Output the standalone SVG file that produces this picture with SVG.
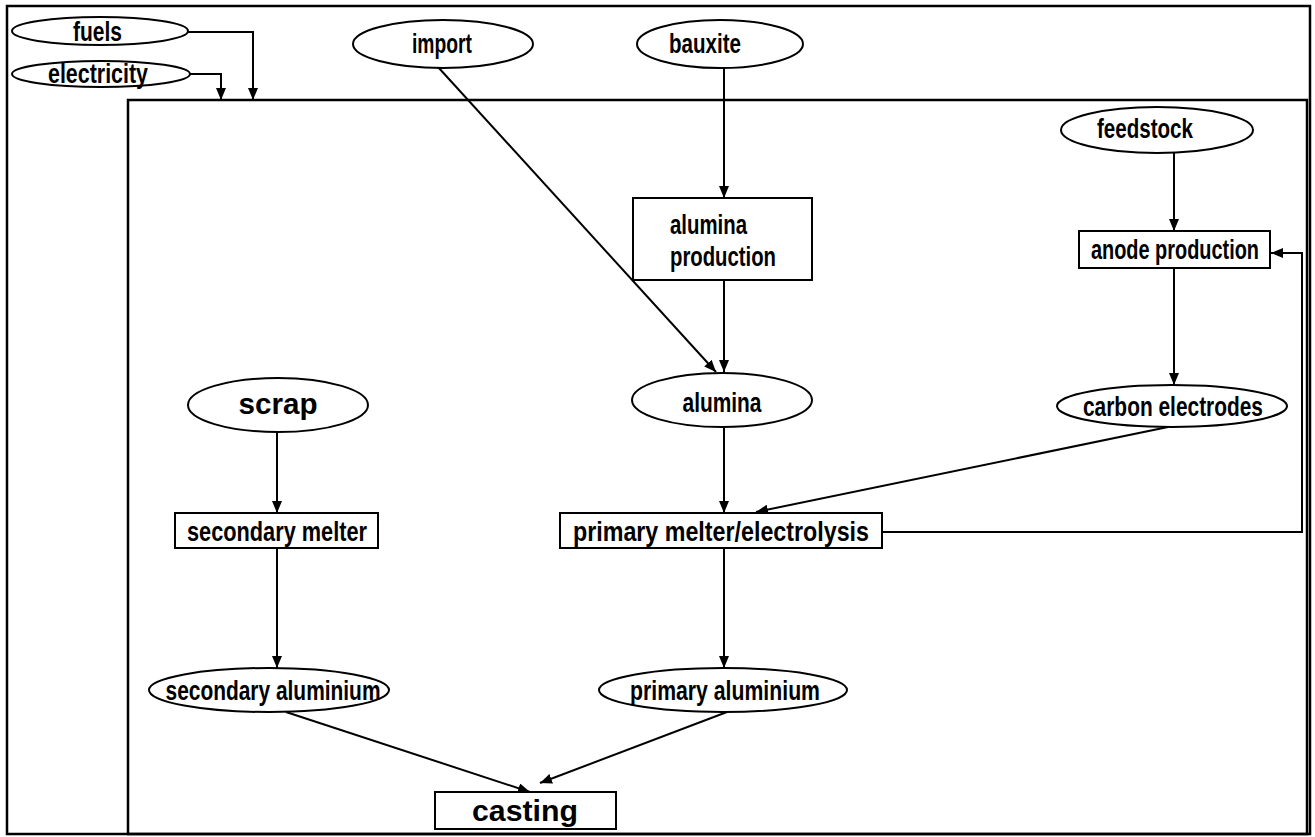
<svg xmlns="http://www.w3.org/2000/svg" width="1315" height="837" viewBox="0 0 1315 837">
<defs>
<style>
.frame{fill:none;stroke:#000;stroke-width:2.5}
.node{fill:#fff;stroke:#000;stroke-width:2}
.lbl{font-family:'Liberation Sans Narrow','Liberation Sans',Arial,sans-serif;font-weight:bold;font-size:27px;fill:#000;text-anchor:middle}
.big{font-family:'Liberation Sans',Arial,sans-serif;font-weight:bold;font-size:29px;fill:#000;text-anchor:middle}
.edge{fill:none;stroke:#000;stroke-width:2}
</style>
<marker id="ah" markerWidth="12" markerHeight="10" refX="12" refY="5" orient="auto" markerUnits="userSpaceOnUse">
<path d="M0,0 L12,5 L0,10 z" fill="#000"/>
</marker>
</defs>
<rect width="1315" height="837" fill="#fff"/>
<rect class="frame" x="7" y="6" width="1303" height="828"/>
<rect class="frame" x="128" y="100" width="1179" height="734"/>

<g id="connectors">
<polyline class="edge" points="188,32 253,32 253,100" marker-end="url(#ah)"/>
<polyline class="edge" points="190,74 221,74 221,100" marker-end="url(#ah)"/>
<line class="edge" x1="438" y1="67" x2="716" y2="372" marker-end="url(#ah)"/>
<line class="edge" x1="724" y1="68" x2="724" y2="198" marker-end="url(#ah)"/>
<line class="edge" x1="724" y1="280" x2="724" y2="372" marker-end="url(#ah)"/>
<line class="edge" x1="1174" y1="153" x2="1174" y2="231" marker-end="url(#ah)"/>
<line class="edge" x1="1174" y1="268" x2="1174" y2="385" marker-end="url(#ah)"/>
<line class="edge" x1="724" y1="428" x2="724" y2="513" marker-end="url(#ah)"/>
<line class="edge" x1="1168" y1="427" x2="756" y2="512" marker-end="url(#ah)"/>
<polyline class="edge" points="882,532 1302,532 1302,253 1271,253" marker-end="url(#ah)"/>
<line class="edge" x1="724" y1="548" x2="724" y2="668" marker-end="url(#ah)"/>
<line class="edge" x1="277" y1="432" x2="277" y2="513" marker-end="url(#ah)"/>
<line class="edge" x1="277" y1="548" x2="277" y2="668" marker-end="url(#ah)"/>
<line class="edge" x1="286" y1="712" x2="530" y2="792" marker-end="url(#ah)"/>
<line class="edge" x1="727" y1="712" x2="540" y2="783" marker-end="url(#ah)"/>
</g>

<g id="fuels"><ellipse class="node" cx="100" cy="31" rx="88" ry="14"/><text class="lbl" x="97.5" y="41" textLength="49" lengthAdjust="spacingAndGlyphs">fuels</text></g>
<g id="electricity"><ellipse class="node" cx="101" cy="74" rx="89" ry="13"/><text class="lbl" x="98" y="83" textLength="100" lengthAdjust="spacingAndGlyphs">electricity</text></g>
<g id="import"><ellipse class="node" cx="443" cy="44" rx="90" ry="24"/><text class="lbl" x="442" y="53" textLength="60" lengthAdjust="spacingAndGlyphs">import</text></g>
<g id="bauxite"><ellipse class="node" cx="720" cy="44" rx="83" ry="24"/><text class="lbl" x="705" y="53" textLength="72" lengthAdjust="spacingAndGlyphs">bauxite</text></g>
<g id="feedstock"><ellipse class="node" cx="1157" cy="130" rx="96" ry="23"/><text class="lbl" x="1145" y="138" textLength="96" lengthAdjust="spacingAndGlyphs">feedstock</text></g>
<g id="alumina-production"><rect class="node" x="633" y="198" width="179" height="82"/><text class="lbl" x="670" y="234" style="text-anchor:start" textLength="77" lengthAdjust="spacingAndGlyphs">alumina</text><text class="lbl" x="670" y="266" style="text-anchor:start" textLength="106" lengthAdjust="spacingAndGlyphs">production</text></g>
<g id="anode-production"><rect class="node" x="1079" y="231" width="191" height="37"/><text class="lbl" x="1175" y="259" textLength="168" lengthAdjust="spacingAndGlyphs">anode production</text></g>
<g id="scrap"><ellipse class="node" cx="278" cy="405" rx="90" ry="27"/><text class="big" x="278" y="414" textLength="79" lengthAdjust="spacingAndGlyphs">scrap</text></g>
<g id="alumina"><ellipse class="node" cx="722" cy="400" rx="90" ry="27"/><text class="lbl" x="722" y="412" textLength="79" lengthAdjust="spacingAndGlyphs">alumina</text></g>
<g id="carbon-electrodes"><ellipse class="node" cx="1172" cy="406" rx="115" ry="21"/><text class="lbl" x="1173" y="416" textLength="180" lengthAdjust="spacingAndGlyphs">carbon electrodes</text></g>
<g id="secondary-melter"><rect class="node" x="175" y="513" width="203" height="35"/><text class="lbl" x="277" y="541" textLength="180" lengthAdjust="spacingAndGlyphs">secondary melter</text></g>
<g id="primary-melter"><rect class="node" x="560" y="513" width="322" height="35"/><text class="lbl" x="721" y="541" textLength="296" lengthAdjust="spacingAndGlyphs">primary melter/electrolysis</text></g>
<g id="secondary-aluminium"><ellipse class="node" cx="269" cy="690" rx="120" ry="22"/><text class="lbl" x="273" y="700" textLength="215" lengthAdjust="spacingAndGlyphs">secondary aluminium</text></g>
<g id="primary-aluminium"><ellipse class="node" cx="723" cy="690" rx="124" ry="22"/><text class="lbl" x="725" y="700" textLength="190" lengthAdjust="spacingAndGlyphs">primary aluminium</text></g>
<g id="casting"><rect class="node" x="435" y="792" width="181" height="37"/><text class="big" x="525" y="821" textLength="106" lengthAdjust="spacingAndGlyphs">casting</text></g>
</svg>
